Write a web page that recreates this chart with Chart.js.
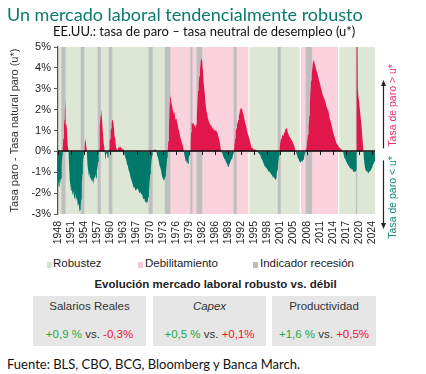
<!DOCTYPE html>
<html>
<head>
<meta charset="utf-8">
<script src="https://cdn.jsdelivr.net/npm/chart.js@4.4.1/dist/chart.umd.min.js"></script>
<style>
  body { margin: 0; background: #fff; }
  #wrap { position: relative; width: 426px; height: 374px; overflow: hidden; font-family: 'Liberation Sans', Arial, sans-serif; }
  #wrap canvas { position: absolute; left: 0; top: 0; }
  .t { position: absolute; white-space: nowrap; line-height: 1; }
  .title { left: 7px; top: 3px; font: 18px Lato, sans-serif; color: #0b7a6c; }
  .sub { left: 53px; top: 23px; font: 13px Lato, sans-serif; color: #111; }
  .foot { left: 7px; top: 356px; font: 13px Lato, sans-serif; color: #111; }
  .leg { top: 258px; font-size: 11.5px; color: #222; }
  .sq { position: absolute; top: 262px; width: 5px; height: 6px; }
  .tabtitle { left: 0; width: 431px; text-align: center; top: 279px; font-size: 11.5px; font-weight: bold; color: #222; }
  .box { position: absolute; top: 296px; height: 50px; background: #e6e6e6; }
  .box .t { left: 0; right: 0; text-align: center; font-size: 11.5px; color: #333; }
  .box .top { top: 5px; }
  .box .bot { top: 33px; }
  .g { color: #1fa84a; }
  .r { color: #f2132f; }
</style>
</head>
<body>
<div id="wrap">
  <canvas id="gapChart" width="426" height="250"></canvas>
  <div class="t title">Un mercado laboral tendencialmente robusto</div>
  <div class="t sub">EE.UU.: tasa de paro – tasa neutral de desempleo (u*)</div>

  <div class="sq" style="left:47px;background:#d9e4cf"></div>
  <div class="t leg" style="left:53px">Robustez</div>
  <div class="sq" style="left:138px;background:#f7c9d4"></div>
  <div class="t leg" style="left:145px">Debilitamiento</div>
  <div class="sq" style="left:253px;background:#bdbdbd"></div>
  <div class="t leg" style="left:260px">Indicador recesión</div>

  <div class="t tabtitle">Evolución mercado laboral robusto vs. débil</div>
  <div class="box" style="left:33px;width:113px">
    <div class="t top">Salarios Reales</div>
    <div class="t bot"><span class="g">+0,9 %</span> vs. <span class="r">-0,3%</span></div>
  </div>
  <div class="box" style="left:153px;width:113px">
    <div class="t top"><i>Capex</i></div>
    <div class="t bot"><span class="g">+0,5 %</span> vs. <span class="r">+0,1%</span></div>
  </div>
  <div class="box" style="left:272px;width:104px">
    <div class="t top">Productividad</div>
    <div class="t bot"><span class="g">+1,6 %</span> vs. <span class="r">+0,5%</span></div>
  </div>

  <div class="t foot">Fuente: BLS, CBO, BCG, Bloomberg y Banca March.</div>
</div>
<script>
// unemployment rate minus neutral rate (u*), % points
const gapDates = [
  1948.0, 1948.1, 1948.25, 1948.4, 1948.5, 1948.6, 1948.75, 1948.85, 1948.95, 1949.05, 1949.15, 1949.3, 1949.45, 1949.55, 1949.65, 1949.75, 1949.83, 1949.92, 1950.0, 1950.1, 1950.2, 1950.3, 1950.4, 1950.5, 1950.6, 1950.7,
  1950.8, 1950.9, 1951.0, 1951.15, 1951.3, 1951.45, 1951.6, 1951.75, 1951.9, 1952.05, 1952.2, 1952.35, 1952.5, 1952.65, 1952.8, 1952.95, 1953.1, 1953.25, 1953.4, 1953.5, 1953.6, 1953.7, 1953.8, 1953.9, 1954.0, 1954.1, 1954.2, 1954.3, 1954.45, 1954.6, 1954.7, 1954.8, 1954.95,
  1955.05, 1955.15, 1955.3, 1955.45, 1955.6, 1955.75, 1955.9, 1956.05, 1956.2, 1956.35, 1956.5, 1956.65, 1956.8, 1956.95, 1957.1, 1957.25, 1957.4, 1957.55, 1957.7, 1957.85, 1957.95, 1958.05, 1958.15, 1958.3, 1958.4, 1958.5, 1958.6, 1958.7, 1958.8, 1958.9, 1959.0, 1959.1, 1959.2, 1959.3, 1959.45, 1959.55, 1959.65, 1959.75, 1959.85, 1959.95, 1960.05, 1960.15, 1960.25,
  1960.35, 1960.45, 1960.55, 1960.65, 1960.75, 1960.85, 1960.95, 1961.05, 1961.15, 1961.25, 1961.35, 1961.45, 1961.55, 1961.65, 1961.75, 1961.85, 1961.95, 1962.05, 1962.15, 1962.3, 1962.45, 1962.6, 1962.75, 1962.9, 1963.05, 1963.2, 1963.35, 1963.5, 1963.65, 1963.8, 1963.95,
  1964.1, 1964.3, 1964.5, 1964.7, 1964.9, 1965.1, 1965.3, 1965.5, 1965.7, 1965.9, 1966.1, 1966.3, 1966.5, 1966.7, 1966.9, 1967.1, 1967.3, 1967.5, 1967.7, 1967.9, 1968.1, 1968.3, 1968.5, 1968.7, 1968.9, 1969.1, 1969.3, 1969.5, 1969.7, 1969.85, 1970.0, 1970.15, 1970.3, 1970.45, 1970.6, 1970.75, 1970.9,
  1971.0, 1971.2, 1971.4, 1971.6, 1971.8, 1972.0, 1972.2, 1972.4, 1972.6, 1972.8, 1973.0, 1973.2, 1973.4, 1973.6, 1973.8, 1973.95, 1974.1, 1974.25, 1974.4, 1974.55,
  1974.7, 1974.85, 1975.0, 1975.15, 1975.25, 1975.35, 1975.45, 1975.6, 1975.75, 1975.9, 1976.05, 1976.2, 1976.35, 1976.5, 1976.65, 1976.8, 1976.95, 1977.1, 1977.25, 1977.4, 1977.55, 1977.7, 1977.85, 1978.0, 1978.15, 1978.3, 1978.45, 1978.6, 1978.75, 1978.9, 1979.05, 1979.2, 1979.35, 1979.5, 1979.65, 1979.8, 1979.95,
  1980.1, 1980.2, 1980.3, 1980.4, 1980.55, 1980.7, 1980.85, 1981.0, 1981.15, 1981.3, 1981.45, 1981.6, 1981.75, 1981.9, 1982.05, 1982.2, 1982.35, 1982.5, 1982.6, 1982.7, 1982.8, 1982.9, 1983.0, 1983.1, 1983.2, 1983.35, 1983.5, 1983.65, 1983.8, 1983.95, 1984.1, 1984.25, 1984.4, 1984.55, 1984.7, 1984.85, 1985.0, 1985.15, 1985.3, 1985.45, 1985.6, 1985.75, 1985.9, 1986.05, 1986.2, 1986.35, 1986.5, 1986.65, 1986.8, 1986.95, 1987.1, 1987.25, 1987.4, 1987.55,
  1987.7, 1987.85, 1988.0, 1988.15, 1988.3, 1988.45, 1988.6, 1988.75, 1988.9, 1989.05, 1989.2, 1989.35, 1989.5, 1989.65, 1989.8, 1989.95, 1990.1, 1990.25, 1990.4, 1990.55,
  1990.7, 1990.85, 1991.0, 1991.15, 1991.3, 1991.45, 1991.6, 1991.75, 1991.9, 1992.05, 1992.2, 1992.35, 1992.5, 1992.65, 1992.8, 1992.95, 1993.1, 1993.25, 1993.4, 1993.55, 1993.7, 1993.85, 1994.0, 1994.15, 1994.3, 1994.45, 1994.6, 1994.75, 1994.9, 1995.05, 1995.2, 1995.35, 1995.5, 1995.65, 1995.8, 1995.95, 1996.1, 1996.25,
  1996.4, 1996.6, 1996.8, 1997.0, 1997.2, 1997.4, 1997.6, 1997.8, 1998.0, 1998.2, 1998.4, 1998.6, 1998.8, 1999.0, 1999.2, 1999.4, 1999.6, 1999.8, 2000.0, 2000.15, 2000.3, 2000.45, 2000.6, 2000.75, 2000.9, 2001.05, 2001.2, 2001.35, 2001.5, 2001.6,
  2001.7, 2001.85, 2002.0, 2002.15, 2002.3, 2002.45, 2002.6, 2002.75, 2002.9, 2003.05, 2003.2, 2003.35, 2003.5, 2003.6, 2003.75, 2003.9, 2004.05, 2004.2, 2004.35, 2004.5, 2004.65, 2004.8, 2004.95, 2005.1, 2005.25, 2005.4, 2005.55,
  2005.7, 2005.85, 2006.0, 2006.15, 2006.3, 2006.45, 2006.6, 2006.75, 2006.9, 2007.05, 2007.2, 2007.35, 2007.5, 2007.65, 2007.8, 2007.95,
  2008.1, 2008.3, 2008.5, 2008.65, 2008.8, 2008.95, 2009.1, 2009.25, 2009.4, 2009.55, 2009.7, 2009.85, 2009.95, 2010.1, 2010.25, 2010.4, 2010.55, 2010.7, 2010.85, 2011.0, 2011.15, 2011.3, 2011.45, 2011.6, 2011.75, 2011.9, 2012.05, 2012.2, 2012.35, 2012.5, 2012.65, 2012.8, 2012.95, 2013.1, 2013.25, 2013.4, 2013.55, 2013.7, 2013.85, 2014.0, 2014.15, 2014.3, 2014.45, 2014.6, 2014.75, 2014.9, 2015.05, 2015.2, 2015.35, 2015.5, 2015.65, 2015.8, 2015.95, 2016.1, 2016.25, 2016.4, 2016.55, 2016.7, 2016.85, 2017.0,
  2017.15, 2017.3, 2017.45, 2017.6, 2017.75, 2017.9, 2018.05, 2018.2, 2018.35, 2018.5, 2018.65, 2018.8, 2018.95, 2019.1, 2019.25, 2019.4, 2019.55, 2019.7, 2019.85, 2020.0, 2020.1, 2020.2,
  2020.25, 2020.4, 2020.5, 2020.58, 2020.7, 2020.85, 2021.0, 2021.15, 2021.3, 2021.45, 2021.6, 2021.75, 2021.9, 2022.0, 2022.15, 2022.3, 2022.45, 2022.6, 2022.75, 2022.9, 2023.05, 2023.2, 2023.35, 2023.5, 2023.65, 2023.8, 2023.95, 2024.1, 2024.25, 2024.4, 2024.55, 2024.7
];
const gapValues = [
  -1.4, -1.6, -1.7, -1.3, -1.5, -1.4, -1.3, -1.0, -0.6, -0.2, 0.2, 0.6, 1.2, 1.5, 1.9, 2.5, 1.5, 1.3, 1.3, 1.2, 0.9, 0.6, 0.3, 0.1, -0.3, -0.8,
  -1.0, -1.4, -1.6, -1.9, -1.7, -2.0, -2.1, -1.9, -2.2, -2.3, -2.0, -2.4, -2.2, -2.3, -2.6, -2.5, -2.7, -2.9, -2.8, -2.6, -2.3, -2.0, -1.6, -1.1, -0.6, -0.3, -0.1, 0.0, 0.3, 0.6, 0.5, 0.3, 0.1,
  -0.3, -0.7, -0.9, -1.2, -1.0, -1.3, -1.2, -1.4, -1.2, -1.5, -1.3, -1.6, -1.2, -1.3, -1.1, -1.3, -0.9, -0.8, -0.5, -0.2, 0.1, 0.6, 1.2, 1.7, 2.0, 1.9, 1.7, 1.4, 1.1, 0.8, 0.5, 0.4, 0.2, 0.0, -0.3, -0.4, -0.1, 0.3, 0.0, -0.3, -0.1, -0.3, -0.1,
  0.1, 0.3, 0.5, 0.6, 0.9, 1.1, 1.3, 1.4, 1.5, 1.55, 1.4, 1.3, 1.1, 1.0, 0.7, 0.6, 0.4, 0.2, 0.1, 0.15, 0.0, 0.2, 0.3, 0.15, 0.2, 0.3, 0.1, 0.2, 0.05, 0.15, 0.0,
  -0.15, -0.3, -0.4, -0.6, -0.7, -0.9, -1.0, -1.2, -1.35, -1.45, -1.6, -1.75, -1.7, -1.9, -1.8, -1.85, -1.75, -1.9, -2.0, -1.95, -2.05, -2.0, -2.2, -2.3, -2.25, -2.45, -2.4, -2.5, -2.4, -2.2, -1.9, -1.5, -1.1, -0.8, -0.5, -0.2, 0.0,
  0.05, 0.1, 0.05, 0.1, 0.0, -0.2, -0.3, -0.5, -0.7, -0.8, -1.0, -1.2, -1.3, -1.4, -1.35, -1.2, -1.0, -0.7, -0.3, 0.0,
  0.5, 1.2, 2.0, 2.6, 2.8, 2.5, 2.3, 2.2, 2.0, 1.9, 1.8, 1.9, 1.6, 1.5, 1.6, 1.4, 1.3, 1.1, 1.0, 0.9, 0.7, 0.6, 0.5, 0.4, 0.3, 0.2, 0.0, -0.2, -0.3, -0.5, -0.4, -0.6, -0.5, -0.6, -0.3, -0.2, 0.0,
  0.4, 0.9, 1.5, 1.4, 1.3, 1.4, 1.3, 1.2, 1.3, 1.1, 1.3, 1.7, 2.3, 2.9, 3.3, 3.6, 3.9, 4.2, 4.4, 4.6, 4.5, 4.3, 4.0, 3.8, 3.4, 3.1, 2.8, 2.4, 2.1, 1.9, 1.8, 1.6, 1.5, 1.4, 1.35, 1.25, 1.3, 1.2, 1.1, 1.2, 1.1, 1.0, 1.05, 1.0, 1.1, 0.95, 0.9, 0.85, 0.7, 0.6, 0.5, 0.3, 0.1, 0.0,
  -0.05, -0.15, -0.25, -0.3, -0.4, -0.35, -0.5, -0.55, -0.6, -0.7, -0.75, -0.6, -0.65, -0.5, -0.45, -0.35, -0.4, -0.25, -0.1, 0.0,
  0.3, 0.6, 0.9, 1.1, 1.3, 1.35, 1.5, 1.7, 1.8, 2.0, 2.1, 2.05, 2.1, 1.9, 1.8, 1.7, 1.55, 1.4, 1.3, 1.2, 1.0, 0.9, 0.8, 0.7, 0.6, 0.5, 0.35, 0.25, 0.15, 0.2, 0.1, 0.15, 0.1, 0.05, 0.1, 0.05, 0.08, 0.0,
  -0.05, -0.1, -0.15, -0.2, -0.35, -0.4, -0.5, -0.6, -0.7, -0.75, -0.8, -0.85, -0.9, -1.0, -0.95, -1.05, -1.1, -1.15, -1.25, -1.2, -1.3, -1.25, -1.4, -1.3, -1.1, -0.9, -0.7, -0.4, -0.2, 0.0,
  0.2, 0.5, 0.6, 0.7, 0.8, 0.75, 0.85, 0.9, 1.0, 1.05, 1.1, 1.15, 1.0, 0.9, 0.85, 0.75, 0.7, 0.65, 0.6, 0.55, 0.5, 0.45, 0.35, 0.3, 0.2, 0.1, 0.0,
  -0.1, -0.2, -0.3, -0.35, -0.4, -0.5, -0.55, -0.5, -0.45, -0.5, -0.45, -0.4, -0.3, -0.2, -0.05, 0.1,
  0.1, 0.5, 0.8, 1.2, 1.7, 2.3, 2.9, 3.4, 3.7, 4.0, 4.3, 4.4, 4.35, 4.2, 4.1, 4.0, 3.85, 3.8, 3.65, 3.55, 3.4, 3.3, 3.2, 3.05, 2.95, 2.85, 2.7, 2.65, 2.55, 2.5, 2.4, 2.3, 2.15, 2.1, 2.0, 1.95, 1.8, 1.6, 1.5, 1.4, 1.3, 1.15, 1.0, 0.9, 0.8, 0.7, 0.6, 0.5, 0.4, 0.35, 0.3, 0.3, 0.2, 0.2, 0.15, 0.15, 0.1, 0.1, 0.05, 0.0,
  -0.2, -0.3, -0.35, -0.4, -0.5, -0.55, -0.6, -0.65, -0.7, -0.75, -0.8, -0.85, -0.8, -0.9, -0.85, -0.95, -1.0, -0.95, -1.0, -0.95, -0.9, -0.9,
  10.0, 8.0, 5.5, 3.0, 2.6, 2.4, 2.1, 1.8, 1.5, 1.2, 0.8, 0.4, 0.0, -0.3, -0.6, -0.8, -0.9, -0.95, -0.9, -1.0, -1.05, -0.95, -1.0, -0.9, -0.95, -0.8, -0.85, -0.7, -0.6, -0.55, -0.5, -0.45
];

// background periods (decimal years)
const robustPeriods = [[1948.0, 1975.21], [1994.33, 2006.7], [2016.05, 2024.7]];
const weakPeriods = [[1975.21, 1994.33], [2006.78, 2016.0]];
const recessions = [
  [1948.83, 1949.83], [1953.5, 1954.38], [1957.6, 1958.35], [1960.27, 1961.15], [1969.92, 1970.9],
  [1973.83, 1975.23], [1980.0, 1980.55], [1981.5, 1982.9], [1990.5, 1991.22], [2001.17, 2001.9],
  [2007.92, 2009.48], [2020.05, 2020.38]
];

const xLabels = ['1948','1951','1954','1957','1960','1963','1967','1970','1973','1976','1979','1982','1986',
  '1989','1992','1995','1998','2001','2005','2008','2011','2014','2017','2020','2024'];
const labelStepMonths = 38;

const red = '#e1174c';
const teal = '#00796a';

const backdrop = {
  id: 'backdrop',
  beforeDraw(chart) {
    const {ctx, chartArea: a, scales: {x}} = chart;
    const band = (p, color, gap) => {
      const x0 = Math.max(a.left, x.getPixelForValue(p[0]));
      const x1 = Math.min(a.right, x.getPixelForValue(p[1]));
      ctx.fillStyle = color;
      ctx.fillRect(x0, a.top, x1 - x0 - (x1 < a.right ? gap : 0), a.bottom - a.top);
    };
    ctx.save();
    robustPeriods.forEach(p => band(p, '#dee7d5', 1));
    weakPeriods.forEach(p => band(p, '#f9d2dc', 1));
    recessions.forEach(p => band(p, '#bfbfbf', 0));
    ctx.restore();
  },
  afterDatasetsDraw(chart) {
    const {ctx, chartArea: a, scales: {x, y}} = chart;
    const y0 = Math.round(y.getPixelForValue(0));
    ctx.save();
    ctx.strokeStyle = '#111';
    ctx.lineWidth = 1.5;
    ctx.beginPath();
    ctx.moveTo(a.left, y0);
    ctx.lineTo(a.right, y0);
    ctx.stroke();
    ctx.lineWidth = 1;
    ctx.beginPath();
    x.ticks.forEach(t => {
      const px = Math.round(x.getPixelForValue(t.value)) + 0.5;
      ctx.moveTo(px, y0);
      ctx.lineTo(px, y0 + 4);
    });
    ctx.stroke();
    ctx.restore();
  },
  afterDraw(chart) {
    const {ctx, chartArea: a, scales: {y}} = chart;
    const y0 = y.getPixelForValue(0);
    const ax = a.right + 8.5;
    const arrow = (from, to) => {
      const dir = Math.sign(to - from);
      ctx.beginPath();
      ctx.moveTo(ax, from);
      ctx.lineTo(ax, to - dir * 5);
      ctx.stroke();
      ctx.beginPath();
      ctx.moveTo(ax, to);
      ctx.lineTo(ax - 2.5, to - dir * 6);
      ctx.lineTo(ax + 2.5, to - dir * 6);
      ctx.closePath();
      ctx.fill();
    };
    const side = (text, cy, color) => {
      ctx.save();
      ctx.translate(a.right + 18.5, cy);
      ctx.rotate(-Math.PI / 2);
      ctx.fillStyle = color;
      ctx.font = "10.5px 'Liberation Sans', Arial, sans-serif";
      ctx.textAlign = 'center';
      ctx.textBaseline = 'middle';
      ctx.fillText(text, 0, 0);
      ctx.restore();
    };
    ctx.save();
    ctx.strokeStyle = '#222';
    ctx.fillStyle = '#222';
    ctx.lineWidth = 1.2;
    arrow(y0 - 3, a.top + 33);
    arrow(y0 + 9, a.bottom + 15);
    side('Tasa de paro > u*', y0 - 46, '#e8336d');
    side('Tasa de paro < u*', y0 + 46, '#138a7a');
    ctx.restore();
  }
};

Chart.defaults.font.family = "'Liberation Sans', Arial, sans-serif";

new Chart(document.getElementById('gapChart'), {
  type: 'line',
  data: {
    datasets: [{
      data: gapDates.map((d, i) => ({x: d, y: gapValues[i]})),
      borderColor: 'rgba(0,0,0,0)',
      borderWidth: 0,
      pointRadius: 0,
      tension: 0,
      fill: {target: 'origin', above: red, below: teal}
    }]
  },
  options: {
    responsive: false,
    animation: false,
    devicePixelRatio: 1,
    layout: {padding: {top: 47, right: 51, left: 0, bottom: 0}},
    plugins: {legend: {display: false}, tooltip: {enabled: false}},
    scales: {
      x: {
        type: 'linear',
        min: 1948,
        max: 2024.7,
        afterBuildTicks(scale) {
          scale.ticks = xLabels.map((l, i) => ({value: 1948 + i * labelStepMonths / 12}));
        },
        afterFit(scale) { scale.height = 36; },
        ticks: {
          autoSkip: false,
          minRotation: 90,
          maxRotation: 90,
          padding: 7,
          color: '#222',
          font: {size: 10.5},
          callback: (v, i) => xLabels[i]
        },
        grid: {display: false, drawTicks: false},
        border: {display: false}
      },
      y: {
        min: -3,
        max: 5,
        afterFit(scale) { scale.width = 58; },
        ticks: {
          stepSize: 1,
          padding: 3,
          color: '#222',
          font: {size: 11},
          callback: v => v + '%'
        },
        grid: {drawOnChartArea: false, drawTicks: true, tickLength: 4, color: '#555'},
        border: {color: '#555', width: 1.2},
        title: {
          display: true,
          text: 'Tasa paro - Tasa natural paro (u*)',
          color: '#333',
          font: {size: 11},
          padding: {top: 8, bottom: 0}
        }
      }
    }
  },
  plugins: [backdrop]
});
</script>
</body>
</html>
